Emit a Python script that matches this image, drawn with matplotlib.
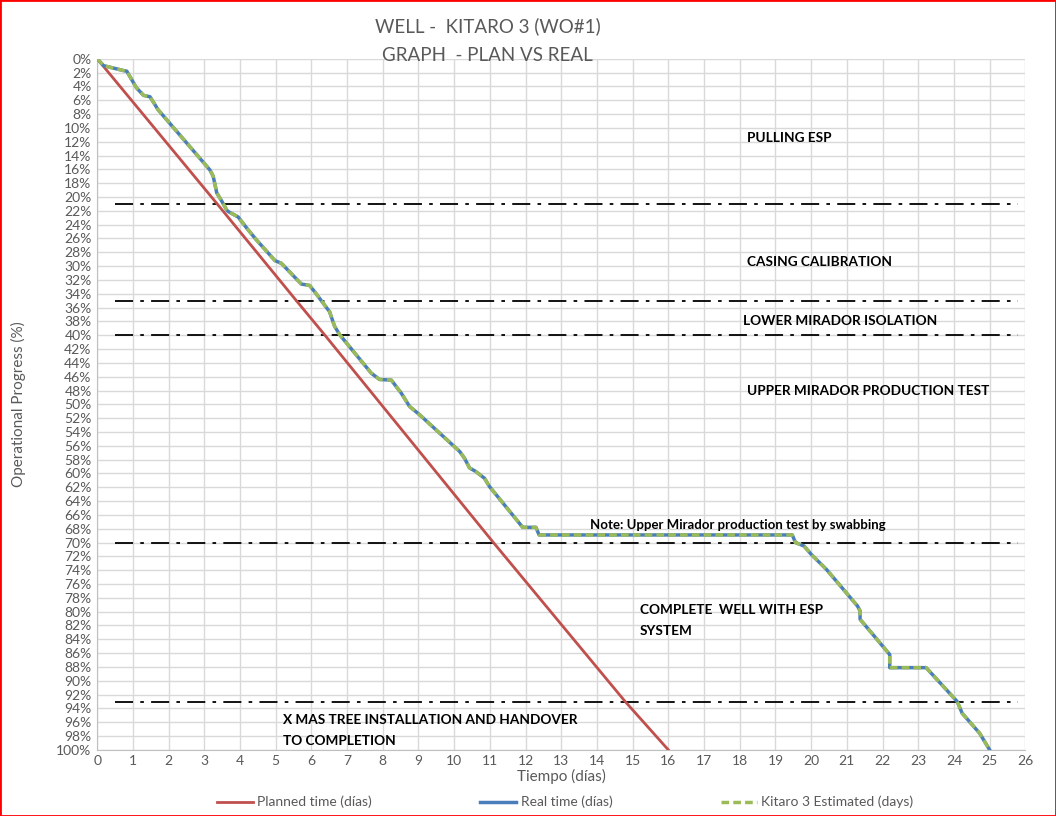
import matplotlib
matplotlib.use("Agg")
import matplotlib.pyplot as plt
from matplotlib.patches import Rectangle

plt.rcParams['font.family'] = ['Lato', 'DejaVu Sans']

# planned progress (days, %)
plan_days = [0, 3.33, 5.58, 6.38, 11.1, 14.79, 16.0]
plan_pct = [0, 20.8, 35.0, 40.0, 70.0, 93.0, 100.0]

# real progress (days, %)
real_days = [0, 0.18, 0.73, 0.83, 1.1, 1.3, 1.48, 1.71, 3.16, 3.25, 3.35, 3.49,
             3.63, 3.67, 3.95, 4.22, 4.46, 4.98, 5.16, 5.72, 5.95, 6.09, 6.51,
             6.65, 6.79, 7.68, 7.91, 8.24, 8.52, 8.75, 9.03, 10.15, 10.29, 10.43,
             10.6, 10.85, 10.99, 11.92, 12.29, 12.38, 19.47, 19.56, 19.8, 20.0,
             20.43, 21.3, 21.37, 21.37, 22.2, 22.2, 23.22, 24.09, 24.23, 24.72, 25.0]
real_pct = [0, 1.0, 1.7, 1.8, 4.2, 5.3, 5.5, 7.4, 16.1, 17.0, 19.4, 20.6,
            21.9, 22.1, 22.9, 24.7, 26.2, 29.2, 29.6, 32.6, 32.8, 33.7, 36.6,
            38.7, 39.9, 45.5, 46.4, 46.5, 48.4, 50.3, 51.5, 56.8, 57.8, 59.2,
            59.7, 60.7, 61.9, 67.8, 67.8, 68.9, 68.9, 70.0, 70.5, 71.7,
            73.9, 79.2, 79.9, 81.1, 86.2, 88.1, 88.1, 93.0, 94.7, 97.6, 100.0]
est_days = real_days
est_pct = real_pct

phase_limits = [21, 35, 40, 70, 93]

fig = plt.figure(figsize=(10.56, 8.16), dpi=100)
ax = fig.add_axes([0.092, 0.081, 0.879, 0.847])

ax.plot(plan_days, plan_pct, color='#c0504d', lw=2, label='Planned time (días)', zorder=3)
ax.plot(real_days, real_pct, color='#4a7ebb', lw=2.5, label='Real time (días)', zorder=4)
ax.plot(est_days, est_pct, color='#9bbb59', lw=2.5, ls=(0, (2.2, 1.2)),
        label='Kitaro 3 Estimated (days)', zorder=5)

for y in phase_limits:
    ax.plot([0.5, 25.8], [y, y], color='black', lw=1.3, ls=(0, (10, 4, 2, 4)), zorder=2)

ax.set_xlim(0, 26)
ax.set_ylim(100, 0)
ax.set_xticks(range(0, 27))
ax.set_yticks(range(0, 101, 2))
ax.set_yticklabels([f'{v}%' for v in range(0, 101, 2)])
ax.tick_params(labelsize=10, colors='#595959', length=0, pad=4)
ax.grid(True, color='#d9d9d9', lw=1)
ax.set_axisbelow(True)
for s in ['top', 'right']:
    ax.spines[s].set_visible(False)
for s in ['left', 'bottom']:
    ax.spines[s].set_color('#bfbfbf')

ax.set_xlabel('Tiempo (días)', fontsize=11, color='#595959', labelpad=1)
ax.set_ylabel('Operational Progress (%)', fontsize=11, color='#595959', labelpad=22)

bold = dict(fontsize=9.8, fontweight='bold', color='black')
ax.text(18.2, 11.5, 'PULLING ESP', va='center', **bold)
ax.text(18.2, 29.4, 'CASING CALIBRATION', va='center', **bold)
ax.text(18.1, 38.0, 'LOWER MIRADOR ISOLATION', va='center', **bold)
ax.text(18.2, 48.0, 'UPPER MIRADOR PRODUCTION TEST', va='center', **bold)
ax.text(13.8, 67.5, 'Note: Upper Mirador production test by swabbing',
        va='center', fontsize=9.5, fontweight='bold', color='black')
ax.text(15.2, 81.3, 'COMPLETE  WELL WITH ESP\nSYSTEM', va='center', linespacing=1.85, **bold)
ax.text(5.2, 97.2, 'X MAS TREE INSTALLATION AND HANDOVER\nTO COMPLETION', va='center',
        linespacing=1.85, **bold)

fig.text(0.462, 0.968, 'WELL -  KITARO 3 (WO#1)', ha='center', va='center',
         fontsize=13.5, color='#595959')
fig.text(0.462, 0.932, 'GRAPH  - PLAN VS REAL', ha='center', va='center',
         fontsize=13.5, color='#595959')

fig.legend(loc='center', bbox_to_anchor=(0.535, 0.017), ncol=3, frameon=False,
           fontsize=10, columnspacing=7.8, handlelength=2.6, handletextpad=0.3,
           labelcolor='#595959')

fig.patches.append(Rectangle((0, 0), 1, 1, transform=fig.transFigure, fill=False,
                             edgecolor='red', lw=2))

fig.savefig('out.png', dpi=100)
